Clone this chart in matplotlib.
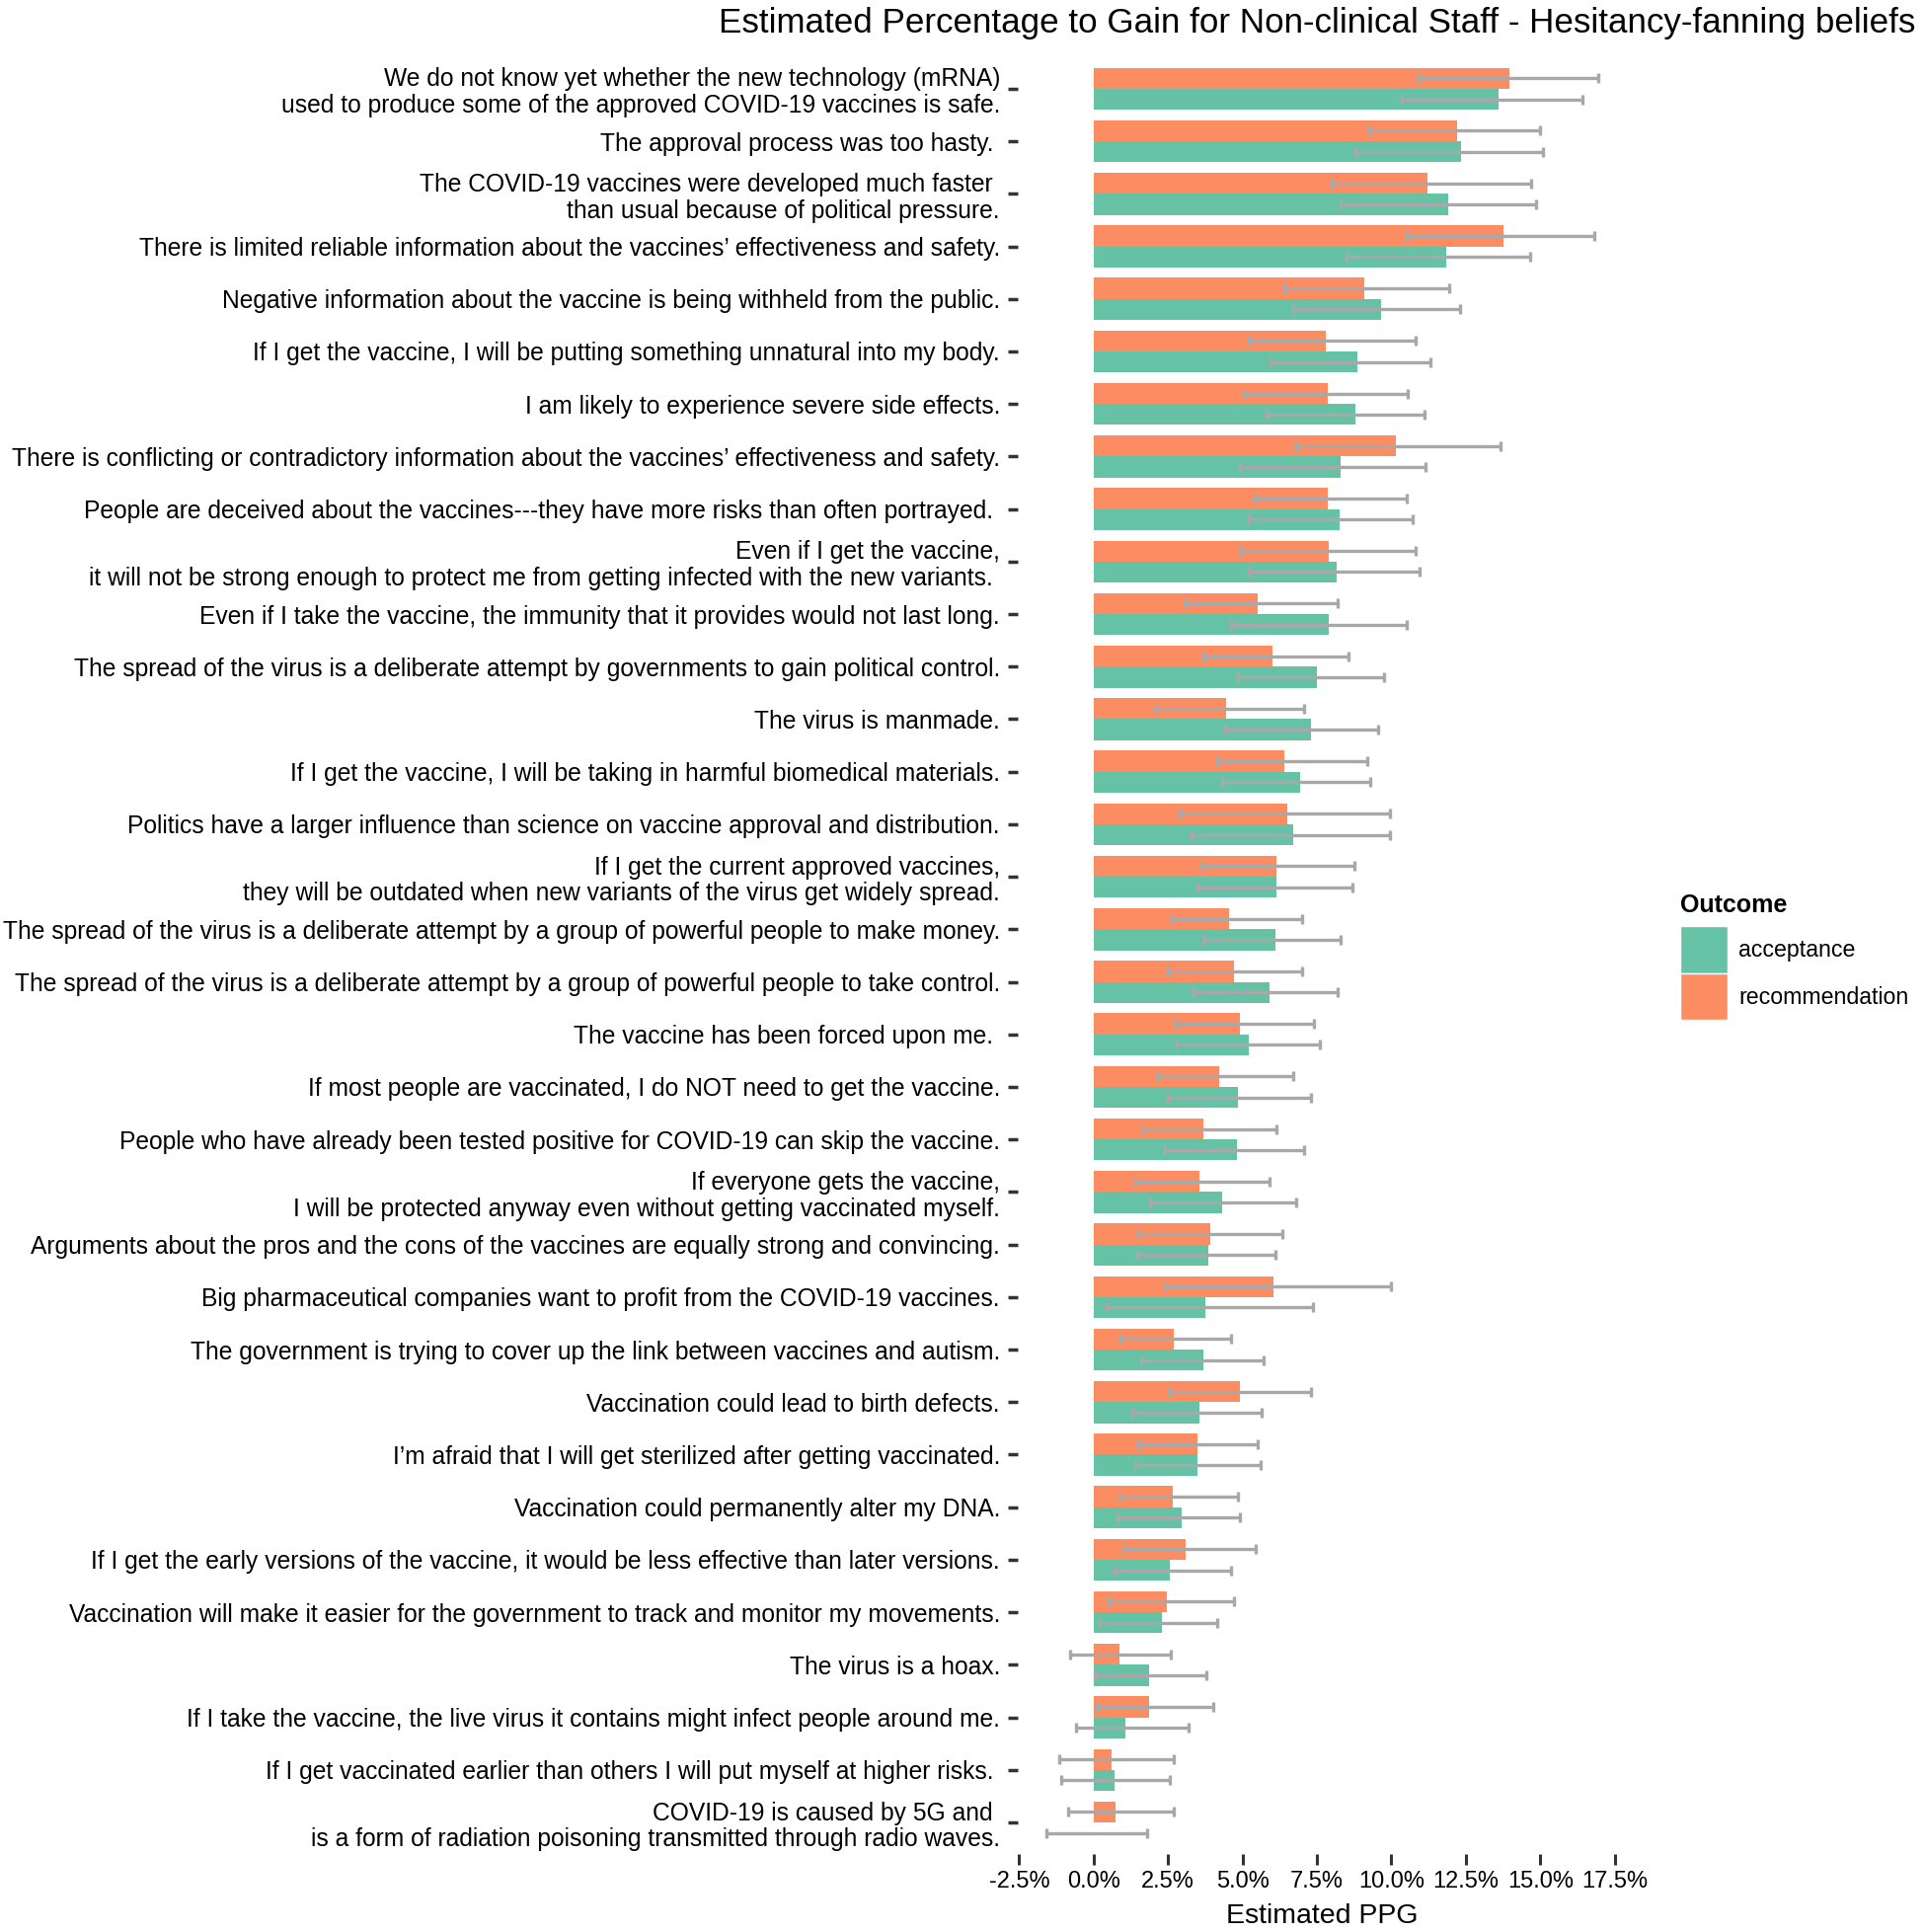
import matplotlib
matplotlib.use('Agg')
import matplotlib.pyplot as plt
from matplotlib.patches import Patch
from matplotlib.ticker import FuncFormatter
import numpy as np

plt.rcParams['font.family'] = ['Liberation Sans', 'DejaVu Sans']

beliefs = [
    "We do not know yet whether the new technology (mRNA)\nused to produce some of the approved COVID-19 vaccines is safe.",
    "The approval process was too hasty. ",
    "The COVID-19 vaccines were developed much faster \nthan usual because of political pressure.",
    "There is limited reliable information about the vaccines\u2019 effectiveness and safety.",
    "Negative information about the vaccine is being withheld from the public.",
    "If I get the vaccine, I will be putting something unnatural into my body.",
    "I am likely to experience severe side effects.",
    "There is conflicting or contradictory information about the vaccines\u2019 effectiveness and safety.",
    "People are deceived about the vaccines---they have more risks than often portrayed. ",
    "Even if I get the vaccine,\nit will not be strong enough to protect me from getting infected with the new variants. ",
    "Even if I take the vaccine, the immunity that it provides would not last long.",
    "The spread of the virus is a deliberate attempt by governments to gain political control.",
    "The virus is manmade.",
    "If I get the vaccine, I will be taking in harmful biomedical materials.",
    "Politics have a larger influence than science on vaccine approval and distribution.",
    "If I get the current approved vaccines,\nthey will be outdated when new variants of the virus get widely spread.",
    "The spread of the virus is a deliberate attempt by a group of powerful people to make money.",
    "The spread of the virus is a deliberate attempt by a group of powerful people to take control.",
    "The vaccine has been forced upon me. ",
    "If most people are vaccinated, I do NOT need to get the vaccine.",
    "People who have already been tested positive for COVID-19 can skip the vaccine.",
    "If everyone gets the vaccine,\nI will be protected anyway even without getting vaccinated myself.",
    "Arguments about the pros and the cons of the vaccines are equally strong and convincing.",
    "Big pharmaceutical companies want to profit from the COVID-19 vaccines.",
    "The government is trying to cover up the link between vaccines and autism.",
    "Vaccination could lead to birth defects.",
    "I\u2019m afraid that I will get sterilized after getting vaccinated.",
    "Vaccination could permanently alter my DNA.",
    "If I get the early versions of the vaccine, it would be less effective than later versions.",
    "Vaccination will make it easier for the government to track and monitor my movements.",
    "The virus is a hoax.",
    "If I take the vaccine, the live virus it contains might infect people around me.",
    "If I get vaccinated earlier than others I will put myself at higher risks. ",
    "COVID-19 is caused by 5G and \nis a form of radiation poisoning transmitted through radio waves.",
]

# estimated PPG (%), lower / upper CI
rec     = [13.95, 12.2, 11.2, 13.75, 9.1, 7.8, 7.85, 10.15, 7.85, 7.9, 5.5, 6.0, 4.45, 6.4, 6.5, 6.15, 4.55, 4.7,
           4.9, 4.2, 3.7, 3.55, 3.9, 6.05, 2.7, 4.9, 3.5, 2.65, 3.1, 2.45, 0.85, 1.85, 0.6, 0.75]
rec_lo  = [10.9, 9.25, 8.0, 10.5, 6.4, 5.2, 5.05, 6.8, 5.4, 4.95, 3.1, 3.7, 2.05, 4.15, 2.9, 3.6, 2.6, 2.5,
           2.75, 2.15, 1.65, 1.4, 1.45, 2.4, 0.9, 2.55, 1.5, 0.85, 1.0, 0.5, -0.8, 0.1, -1.15, -0.85]
rec_hi  = [16.95, 15.0, 14.7, 16.8, 11.95, 10.8, 10.55, 13.65, 10.5, 10.8, 8.2, 8.55, 7.05, 9.2, 9.95, 8.75, 7.0, 7.0,
           7.4, 6.7, 6.15, 5.9, 6.35, 10.0, 4.6, 7.3, 5.5, 4.85, 5.45, 4.7, 2.6, 4.0, 2.7, 2.7]
acc     = [13.6, 12.35, 11.9, 11.85, 9.65, 8.85, 8.8, 8.3, 8.25, 8.15, 7.9, 7.5, 7.3, 6.95, 6.7, 6.15, 6.1, 5.9,
           5.2, 4.85, 4.8, 4.3, 3.85, 3.75, 3.7, 3.55, 3.5, 2.95, 2.55, 2.3, 1.85, 1.05, 0.7, 0.0]
acc_lo  = [10.35, 8.8, 8.3, 8.5, 6.7, 5.95, 5.8, 4.9, 5.2, 5.2, 4.6, 4.85, 4.4, 4.3, 3.3, 3.5, 3.7, 3.35,
           2.8, 2.5, 2.4, 1.9, 1.45, 0.45, 1.6, 1.3, 1.4, 0.8, 0.7, 0.2, 0.05, -0.6, -1.1, -1.6]
acc_hi  = [16.4, 15.1, 14.85, 14.65, 12.3, 11.3, 11.1, 11.15, 10.7, 10.95, 10.5, 9.75, 9.55, 9.3, 9.95, 8.7, 8.3, 8.2,
           7.6, 7.3, 7.05, 6.8, 6.1, 7.35, 5.7, 5.65, 5.6, 4.9, 4.6, 4.15, 3.8, 3.2, 2.55, 1.8]

GREEN, ORANGE, ERR = '#66C2A5', '#FC8D62', '#A8A8A8'

fig = plt.figure(figsize=(19.5, 19.57), dpi=100)
ax = fig.add_axes([0.5287, 0.0404, 0.3163, 0.930])

y = np.arange(len(beliefs))
h = 0.4
ax.barh(y - h/2, rec, height=h, color=ORANGE, edgecolor='none')
ax.barh(y + h/2, acc, height=h, color=GREEN, edgecolor='none')
ekw = dict(fmt='none', ecolor=ERR, elinewidth=2.4, capsize=3.5, capthick=2.4)
ax.errorbar(rec, y - h/2, xerr=[np.array(rec) - rec_lo, np.array(rec_hi) - rec], **ekw)
ax.errorbar(acc, y + h/2, xerr=[np.array(acc) - acc_lo, np.array(acc_hi) - acc], **ekw)

ax.set_ylim(len(beliefs) - 0.4, -0.6)
ax.set_xlim(-2.55, 17.9)
ax.set_xticks(np.arange(-2.5, 17.6, 2.5))
ax.xaxis.set_major_formatter(FuncFormatter(lambda v, p: f'{v:.1f}%'))
ax.set_yticks(y)
ax.set_yticklabels(beliefs, fontsize=17.7, multialignment='right', linespacing=1.15)
ax.tick_params(axis='x', labelsize=17, length=8, width=2.2, color='#333333', pad=4)
ax.tick_params(axis='y', length=7, width=2.5, color='#333333', pad=6)
for s in ax.spines.values():
    s.set_visible(False)
ax.set_xlabel('Estimated PPG', fontsize=20.5, labelpad=8)

fig.text(0.995, 0.988, 'Estimated Percentage to Gain for Non-clinical Staff - Hesitancy-fanning beliefs',
         ha='right', va='center', fontsize=25.2)

handles = [Patch(facecolor=GREEN, edgecolor='white', linewidth=1, label='acceptance'),
           Patch(facecolor=ORANGE, edgecolor='white', linewidth=1, label='recommendation')]
leg = fig.legend(handles=handles, title='Outcome', loc='upper left', bbox_to_anchor=(0.873, 0.5377),
                 frameon=False, fontsize=16.7, title_fontsize=18, handlelength=2.05, handleheight=2.77,
                 labelspacing=0.0, handletextpad=0.5, borderaxespad=0, borderpad=0)
leg.get_title().set_fontweight('bold')
leg._legend_box.align = 'left'
leg._legend_box.sep = 7

fig.savefig('out.png', dpi=100)
